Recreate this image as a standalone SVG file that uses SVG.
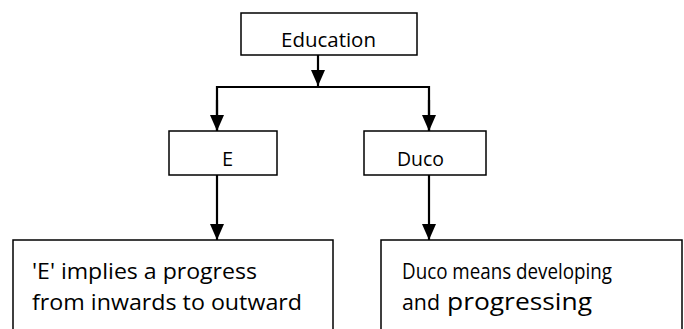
<svg xmlns="http://www.w3.org/2000/svg" width="684" height="329" viewBox="0 0 684 329">
  <defs>
    <marker id="arrow" markerUnits="userSpaceOnUse" markerWidth="18" markerHeight="16" refX="16" refY="7" orient="auto" viewBox="0 0 18 14">
      <path d="M0,0 L16,7 L0,14 z" fill="#000"/>
    </marker>
    <style>
      .box { fill: #fff; stroke: #000; stroke-width: 1.5; }
      .conn { fill: none; stroke: #000; stroke-width: 2.2; }
      .lbl { font-family: "Open Sans", "Liberation Sans", sans-serif; font-size: 20px; fill: #000; }
      .txt { font-family: "Open Sans", "Liberation Sans", sans-serif; font-size: 22px; fill: #000; }
      .sm { font-size: 21px; }
    </style>
  </defs>
  <rect width="684" height="329" fill="#fff"/>
  <g id="connectors">
    <line class="conn" x1="318" y1="55" x2="318" y2="86" marker-end="url(#arrow)"/>
    <polyline class="conn" points="217,131 217,87 429,87 429,131" />
    <line class="conn" x1="217" y1="100" x2="217" y2="131" marker-end="url(#arrow)"/>
    <line class="conn" x1="429" y1="100" x2="429" y2="131" marker-end="url(#arrow)"/>
    <line class="conn" x1="217" y1="175" x2="217" y2="240" marker-end="url(#arrow)"/>
    <line class="conn" x1="429" y1="175" x2="429" y2="240" marker-end="url(#arrow)"/>
  </g>
  <g id="node-education">
    <rect class="box" x="241" y="13" width="176" height="42"/>
    <text class="lbl" x="281" y="47" textLength="95" lengthAdjust="spacingAndGlyphs">Education</text>
  </g>
  <g id="node-e">
    <rect class="box" x="169" y="131" width="108" height="44"/>
    <text class="lbl" x="222" y="166">E</text>
  </g>
  <g id="node-duco">
    <rect class="box" x="364" y="131" width="122" height="44"/>
    <text class="lbl" x="397" y="166" textLength="47" lengthAdjust="spacingAndGlyphs">Duco</text>
  </g>
  <g id="node-e-desc">
    <rect class="box" x="13" y="240" width="320" height="100"/>
    <text class="txt" x="32" y="279" textLength="225" lengthAdjust="spacingAndGlyphs">'E' implies a progress</text>
    <text class="txt" x="32" y="310" textLength="270" lengthAdjust="spacingAndGlyphs">from inwards to outward</text>
  </g>
  <g id="node-duco-desc">
    <rect class="box" x="381" y="240" width="301" height="100"/>
    <text class="txt sm" x="402" y="279" textLength="210" lengthAdjust="spacingAndGlyphs">Duco means developing</text>
    <text class="txt sm" y="310"><tspan x="402" textLength="38" lengthAdjust="spacingAndGlyphs">and</tspan><tspan x="447" textLength="145" lengthAdjust="spacingAndGlyphs" style="font-size:23px">progressing</tspan></text>
  </g>
</svg>
